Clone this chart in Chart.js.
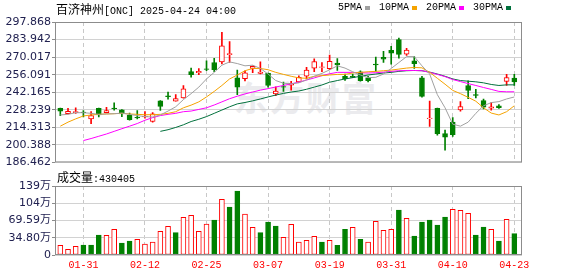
<!DOCTYPE html>
<html>
<head>
<meta charset="utf-8">
<script src="https://cdn.jsdelivr.net/npm/chart.js@4.4.1/dist/chart.umd.min.js"></script>
<style>
  body { margin: 0; background: #fff; }
  #wrap { position: relative; width: 578px; height: 276px; overflow: hidden; }
  canvas { position: absolute; left: 0; }
  .txt { position: absolute; font-family: "Liberation Mono", monospace; font-size: 10px; line-height: 14px; color: #000; white-space: nowrap; }
  .cjk { font-family: "Noto Sans CJK SC"; font-size: 12px; }
  #legend { position: absolute; left: 338px; top: 1px; display: flex; align-items: center; }
  #legend .item { display: flex; align-items: center; margin-right: 9px; }
  #legend .sq { display: inline-block; width: 5px; height: 4px; margin-left: 3px; }
  #mark { position: absolute; left: 234px; top: 72px; font-family: "Noto Sans CJK SC"; font-weight: bold; font-size: 34px; color: #ebebee; letter-spacing: 2px; }
</style>
</head>
<body>
<div id="wrap">
  <div id="mark">东方财富</div>
  <canvas id="main" width="578" height="170" style="top:0"></canvas>
  <canvas id="vol" width="578" height="106" style="top:170px"></canvas>
  <div class="txt" style="left:56px;top:2px"><span class="cjk">百济神州</span>[ONC] 2025-04-24 04:00</div>
  <div id="legend" class="txt"></div>
  <div class="txt" style="left:57px;top:170px"><span class="cjk">成交量</span>:430405</div>
</div>
<script>
// trading days shown
const dates = ['01-28','01-29','01-30','01-31',
  '02-03','02-04','02-05','02-06','02-07','02-10','02-11','02-12','02-13','02-14','02-18','02-19','02-20','02-21','02-24','02-25','02-26','02-27','02-28',
  '03-03','03-04','03-05','03-06','03-07','03-10','03-11','03-12','03-13','03-14','03-17','03-18','03-19','03-20','03-21','03-24','03-25','03-26','03-27','03-28','03-31',
  '04-01','04-02','04-03','04-04','04-07','04-08','04-09','04-10','04-11','04-14','04-15','04-16','04-17','04-21','04-22','04-23'];
const shownDates = ['01-31','02-12','02-25','03-07','03-19','03-31','04-10','04-23'];

const open  = [229.3,225.1,225.9,226.4,221.0,229.3,225.9,229.6,228.2,224.1,222.3,222.5,218.9,235.3,239.3,235.0,237.6,258.6,257.6,260.8,
               265.7,266.2,271.9,253.5,253.0,261.0,257.1,257.1,240.8,246.7,247.8,250.4,254.8,261.3,261.8,260.8,265.2,254.8,254.8,258.4,
               253.5,264.4,269.9,275.3,283.9,272.4,267.0,253.5,221.2,229.3,209.3,218.4,228.2,247.5,240.2,235.5,229.5,231.4,250.7,253.3];
const high  = [229.6,229.3,229.8,227.5,226.7,229.5,230.1,233.7,228.4,225.6,227.5,226.7,225.9,235.6,242.2,240.2,247.5,261.3,261.0,267.0,
               269.1,289.6,282.3,259.7,259.2,263.1,266.2,257.3,246.4,250.2,250.8,255.1,261.8,268.6,265.7,271.7,268.8,256.6,256.6,259.2,
               254.8,270.1,274.5,278.6,285.2,276.9,270.4,254.8,235.2,229.5,212.2,222.0,234.7,251.2,244.4,236.8,234.0,232.4,256.3,256.3];
const low   = [223.6,225.0,225.4,222.5,217.1,222.5,225.7,228.0,222.8,220.0,221.0,221.5,218.4,227.7,236.6,235.0,237.4,254.0,256.1,259.2,
               258.4,264.7,265.7,240.2,251.2,257.6,256.6,246.2,239.5,242.7,243.7,249.9,252.7,258.4,258.4,260.0,259.4,251.5,253.6,250.9,
               250.4,258.7,265.7,264.4,269.1,271.4,261.0,238.2,215.0,208.0,196.1,207.0,227.2,237.1,237.6,228.8,228.0,229.3,247.5,247.5];
const close = [227.2,226.9,226.7,226.0,223.6,224.1,227.5,229.0,224.9,220.4,221.8,223.3,225.1,230.8,238.6,237.1,244.9,256.1,258.7,260.2,
               260.0,278.9,272.9,246.2,257.6,262.6,258.1,247.5,243.1,246.2,249.2,254.0,259.7,266.5,262.3,266.7,263.9,252.7,253.8,251.4,
               251.4,263.9,268.3,273.2,272.2,275.6,264.9,238.9,221.7,209.3,206.4,208.5,230.8,243.6,239.7,230.3,230.6,229.8,253.8,250.4];

const ma5  = [224.1,224.6,225.9,225.9,225.4,224.6,224.9,225.1,225.6,224.6,223.6,222.8,222.5,224.1,227.2,230.6,236.3,241.0,246.2,252.7,
              257.9,263.6,266.2,264.9,263.1,263.6,261.0,256.6,251.4,249.3,248.8,249.6,251.9,254.8,257.1,259.9,263.1,261.3,258.4,255.8,
              253.7,254.0,256.6,261.0,265.7,270.4,270.4,263.1,256.6,240.2,229.8,216.8,215.2,218.4,225.4,231.4,233.9,234.7,236.8,238.4];
const ma10 = [215.2,218.4,221.0,223.3,224.1,224.6,224.9,225.1,225.4,224.9,224.6,224.3,224.3,224.6,225.4,226.7,229.8,231.9,234.5,238.4,
              242.8,247.5,252.7,255.8,259.2,261.0,261.0,260.0,257.9,256.3,254.8,253.5,253.2,254.8,255.3,255.8,256.3,256.3,257.4,257.9,
              258.4,258.7,259.2,259.7,260.5,261.3,261.8,261.5,257.9,253.2,248.5,243.6,241.0,238.1,235.0,229.8,225.6,224.1,226.7,231.4];
const ma20 = [null,null,null,203.8,205.4,207.2,209.0,211.1,213.2,215.2,217.3,219.9,222.0,223.6,224.6,225.4,226.7,227.2,228.5,229.8,
              232.0,234.5,237.0,239.0,240.8,242.3,243.8,245.0,246.3,247.5,248.8,250.2,251.8,253.5,255.3,256.8,257.9,257.9,257.9,257.6,
              257.4,257.6,258.1,258.7,259.2,259.4,259.4,259.2,257.9,256.3,254.5,252.2,250.6,249.0,247.5,245.9,244.4,242.8,242.5,242.5];
const ma30 = [null,null,null,null,null,null,null,null,null,null,null,null,null,211.1,212.4,214.2,216.3,218.9,220.7,222.8,
              225.4,228.0,230.6,232.9,234.0,235.3,236.8,238.4,239.9,241.2,242.3,243.1,244.5,246.2,247.9,250.1,251.4,252.7,253.7,254.8,
              255.8,256.6,257.4,257.9,258.7,259.2,259.4,259.2,258.1,256.6,254.8,252.7,251.4,250.9,250.4,249.6,248.3,247.5,248.0,248.0];

// volume in 万 shares, and whether the bar is drawn as an up (red) bar
const volume = [19.5,11.4,17.5,20.2,20.2,40.3,39.7,51.8,24.2,28.2,31.6,22.2,26.2,47.7,57.8,45.1,76.0,80.0,47.7,62.5,
                70.6,112.3,96.8,129.1,82.7,55.8,45.1,66.6,58.5,35.6,61.9,26.2,29.6,37.7,26.2,29.6,19.5,51.8,55.8,31.6,
                26.2,67.9,49.8,51.8,90.8,74.0,38.3,66.6,70.6,60.5,76.7,92.1,90.1,84.1,40.3,56.5,51.8,28.2,71.9,43.0];
const volUp  = [1,1,1,0,0,0,1,1,0,0,1,1,1,1,1,0,1,1,1,1,
                0,1,0,0,1,1,0,0,0,1,1,1,1,1,0,1,0,0,1,0,
                1,1,1,1,0,1,0,0,0,0,0,1,1,1,0,0,1,0,1,0];

const priceTicks = ['186.462','200.388','214.313','228.239','242.165','256.091','270.017','283.942','297.868'];
const volTickValues = [0, 34.797, 69.594, 104.39, 139.19];
const volTickLabels = ['0', '34.80万', '69.59万', '104万', '139万'];

const maNames = ['5PMA', '10PMA', '20PMA', '30PMA'];
const maColors = ['#a0a0a0', '#f5a300', '#ff00ff', '#00703c'];

const RED = '#ff0000', GREEN = '#008000';
const up = close.map((c, i) => c >= open[i]);
const xy = arr => arr.map((v, i) => ({ x: i, y: v }));

const framePlugin = {
  id: 'frame',
  afterDraw(chart) {
    const { ctx, chartArea: a } = chart;
    ctx.save();
    ctx.strokeStyle = '#8c8c8c';
    ctx.lineWidth = 1;
    ctx.strokeRect(a.left + 0.5, a.top + 0.5, a.right - a.left - 1, a.bottom - a.top - 1);
    ctx.restore();
  }
};

function xAxis(showLabels) {
  return {
    type: 'linear', min: -0.69, max: 60.0, offset: false,
    afterBuildTicks: s => { s.ticks = shownDates.map(d => ({ value: dates.indexOf(d) })); },
    afterFit: s => { s.height = showLabels ? 21 : 0; },
    ticks: {
      display: showLabels, autoSkip: false, maxRotation: 0, padding: 4,
      callback: v => dates[v], color: RED,
      font: { family: '"Liberation Mono"', size: 10 }
    },
    grid: { color: '#c8c8c8', drawTicks: false, offset: false },
    border: { display: false, dash: [4, 3] }
  };
}

const yFont = { family: '"DejaVu Sans", "Noto Sans CJK SC"', size: 11 };

new Chart(document.getElementById('main'), {
  type: 'bar',
  data: {
    datasets: [
      ...maNames.map((n, k) => ({
        type: 'line', label: n, data: xy([ma5, ma10, ma20, ma30][k]),
        borderColor: maColors[k], borderWidth: 1, pointRadius: 0, tension: 0, order: 0
      })),
      {
        label: 'body', data: xy(open.map((o, i) => [o, close[i]])),
        backgroundColor: up.map(u => u ? '#ffffff' : GREEN),
        borderColor: up.map(u => u ? RED : GREEN),
        borderWidth: 1, borderSkipped: false, barThickness: 5, grouped: false, order: 1
      },
      {
        label: 'wick', data: xy(low.map((l, i) => [l, high[i]])),
        backgroundColor: up.map(u => u ? RED : GREEN),
        barThickness: 1, grouped: false, order: 2
      }
    ]
  },
  options: {
    responsive: false, animation: false, devicePixelRatio: 1,
    layout: { padding: { top: 22, right: 56, bottom: 5, left: 0 } },
    plugins: { legend: { display: false }, tooltip: { enabled: false } },
    scales: {
      x: xAxis(false),
      y: {
        min: 186.462, max: 297.868, beginAtZero: false,
        afterBuildTicks: s => { s.ticks = priceTicks.map(t => ({ value: parseFloat(t) })); },
        afterFit: s => { s.width = 55; },
        ticks: { callback: (v, i) => priceTicks[i], color: '#202050', font: yFont, padding: 1 },
        grid: { color: '#d2d2d2', tickLength: 3, tickColor: '#8c8c8c' },
        border: { display: false }
      }
    }
  },
  plugins: [framePlugin]
});

new Chart(document.getElementById('vol'), {
  type: 'bar',
  data: {
    datasets: [{
      label: '成交量', data: xy(volume),
      backgroundColor: volUp.map(u => u ? '#ffffff' : GREEN),
      borderColor: volUp.map(u => u ? RED : GREEN),
      borderWidth: 1, borderSkipped: false, barThickness: 5
    }]
  },
  options: {
    responsive: false, animation: false, devicePixelRatio: 1,
    layout: { padding: { top: 16, right: 56, bottom: 0, left: 0 } },
    plugins: { legend: { display: false }, tooltip: { enabled: false } },
    scales: {
      x: xAxis(true),
      y: {
        min: 0, max: 139.19,
        afterBuildTicks: s => { s.ticks = volTickValues.map(v => ({ value: v })); },
        afterFit: s => { s.width = 55; },
        ticks: { callback: (v, i) => volTickLabels[i], color: '#202050', font: yFont, padding: 1 },
        grid: { color: '#d2d2d2', tickLength: 3, tickColor: '#8c8c8c' },
        border: { display: false }
      }
    }
  },
  plugins: [framePlugin]
});

// legend row for the moving averages
const legend = document.getElementById('legend');
maNames.forEach((n, k) => {
  const item = document.createElement('span');
  item.className = 'item';
  item.innerHTML = n + '<span class="sq" style="background:' + maColors[k] + '"></span>';
  legend.appendChild(item);
});
</script>
</body>
</html>
